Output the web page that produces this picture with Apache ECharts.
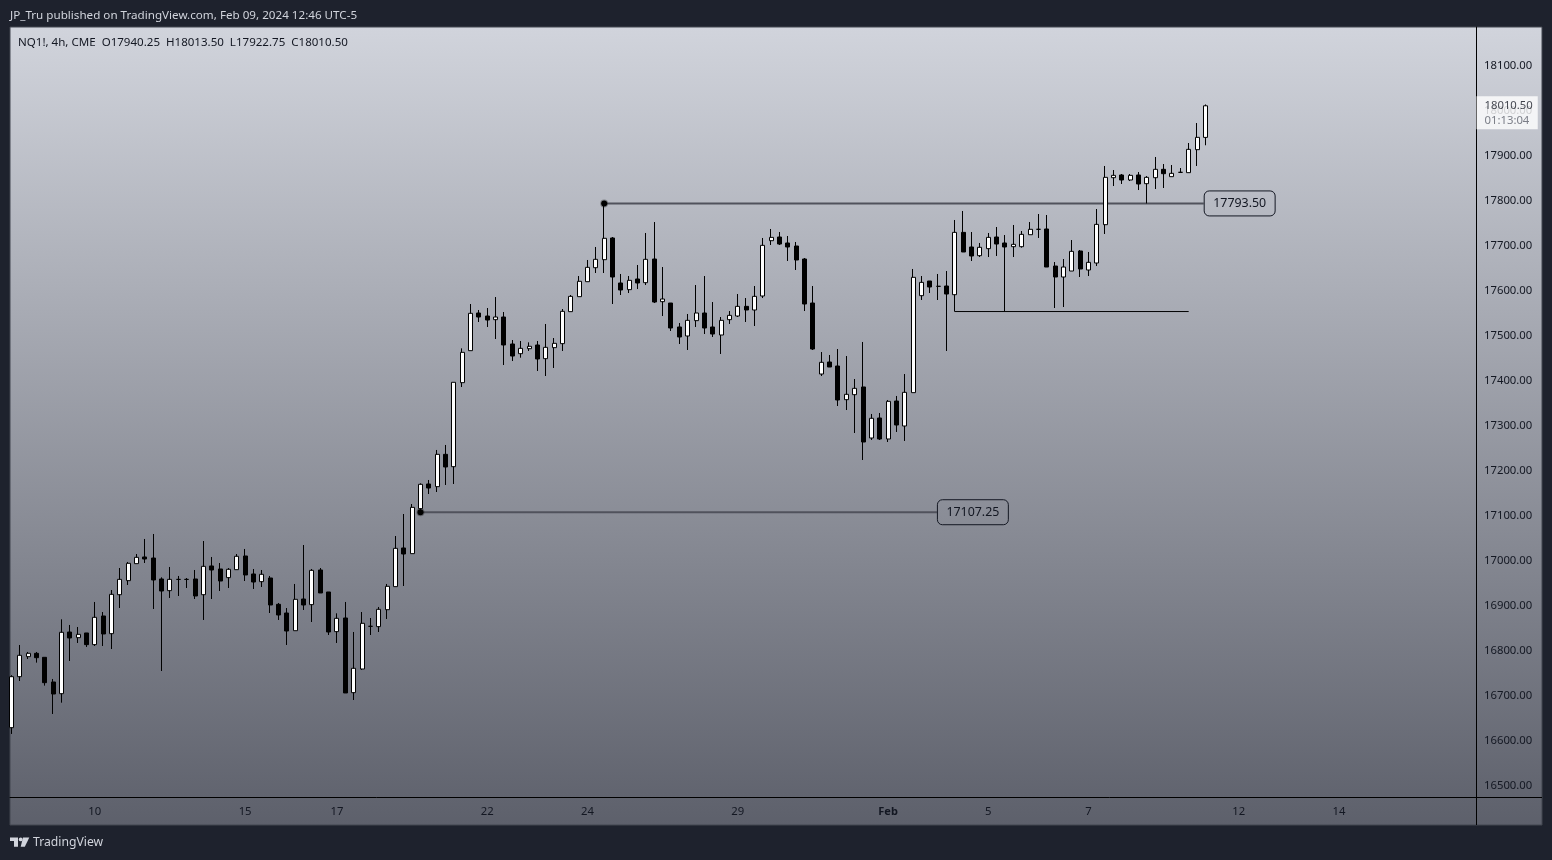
<!DOCTYPE html>
<html>
<head>
<meta charset="utf-8">
<title>NQ1! 4h</title>
<script src="https://cdn.jsdelivr.net/npm/echarts@6/dist/echarts.min.js"></script>
<style>
  html, body { margin: 0; padding: 0; background: #1e222d; }
  #chart { width: 1552px; height: 860px; }
</style>
</head>
<body>
<div id="chart"></div>
<script>
const opens = [16628.5,16741.8,16786.3,16793.7,16784.8,16730,16704,16841,16828.5,16838.9,16813,16876.7,16837.4,16924,16955.2,16993,17007.8,17005.5,16958.9,16933,16958,16958,16958.9,16924,16987.8,
  16981.1,16961.9,16979.6,17010,16970,16953,16961.1,16902.6,16883.3,16844,16914.4,16901.9,16978.9,16930,16841.9,16872.2,16706.3,16758.9,16853.7,16853,16890.7,16941.9,17027.8,17015.2,17115.2,
  17170,17164.1,17235.9,17208.5,17395.2,17466.3,17550,17543.3,17535.2,17541.1,17481.1,17459.6,17470.7,17478.9,17448.5,17473,17481.9,17553,17586.3,17619.6,17650.7,17668.5,17716.7,17616.7,17601.9,
  17625.6,17617.4,17670,17575.2,17572.2,17518.9,17498.9,17533,17550,17518.9,17501.1,17535.2,17543.3,17564.8,17556.7,17587.8,17710.7,17718.9,17705.6,17698.9,17670,17572.2,17414.4,17441.1,17432.2,
  17357.4,17368.5,17385.6,17272.2,17316.7,17270,17354.4,17298.9,17373,17588.5,17621.1,17609.3,17610,17590.7,17729.2,17696.7,17677.4,17693,17718.9,17705.6,17697.4,17697.4,17724,17736,17736.7,
  17654.4,17630,17643.3,17687.8,17645.6,17661.1,17746.3,17850.7,17856.7,17845.6,17856.7,17837.4,17850.7,17869.3,17853,17862.6,17861.9,17913,17940.25];
const closes = [16741.8,16789.3,16793.7,16784,16728.5,16703.3,16840.4,16827.8,16835.9,16813,16873.7,16836.7,16924.8,16958.1,16993.7,17007,17003.3,16956.7,16932.2,16958.1,16958,16958,16921.1,16987,16978.9,
  16954.4,16980.4,17009.3,16967.8,16952.2,16969.3,16901.1,16878.9,16843.3,16913.7,16901.1,16978.1,16927.8,16841.1,16871.5,16705.6,16760.4,16860.4,16853.7,16891.5,16942.6,17027,17014.4,17118.1,17169.3,
  17161.1,17235.9,17207.8,17396,17462.6,17549.3,17541.1,17534.4,17541.1,17478.9,17454.4,17471.5,17476,17447.8,17473.7,17482.6,17553.7,17587,17620.4,17651.5,17669.3,17716,17630,17601.1,17622.6,
  17616.7,17669.3,17574.4,17581.1,17516.7,17496.7,17533.7,17550,17516.7,17503.3,17533.7,17544.8,17564.8,17556.7,17587,17700.4,17718.1,17703.3,17696.7,17667.8,17570,17470,17440.4,17430,17356.7,
  17369.3,17382.6,17263.3,17316,17270,17353.7,17301.1,17373.7,17629.3,17618.1,17607.8,17609.3,17592.2,17729.2,17685.6,17676.7,17696,17718.1,17703.3,17696.7,17702.6,17724.8,17736,17736,17652.2,
  17630,17652.2,17687,17647.8,17662.6,17747,17851.5,17855.9,17845.6,17855.9,17836.7,17851.5,17869.3,17859.6,17860.4,17862.6,17913.7,17940.4,18010.5];
const lows = [16614.5,16732.2,16781.1,16773,16721.9,16658.9,16684,16776.7,16816.7,16807.8,16810,16810,16803.3,16894.4,16945.6,16993,16994.4,16892.2,16754.4,16916.7,16921.1,16938.9,16914.4,16867.8,16914.4,
  16932.2,16938.9,16979.6,16954.4,16936.7,16941.1,16883.3,16867.8,16812.2,16844,16890,16863.3,16927.8,16834.4,16816.7,16705.6,16690,16756.7,16834.4,16841.1,16870,16941.9,16943.3,17015.2,17107.25,
  17147.8,17152.2,17167.8,17170,17385.5,17466.3,17530,17518.9,17492.2,17434.4,17443.3,17450.7,17465.6,17421.1,17410,17427.8,17465.6,17553,17586.3,17619.6,17638.9,17638.9,17570,17590,17594.4,
  17603.3,17612.2,17572.2,17543.3,17510,17481.1,17467.8,17518.9,17503.3,17496.7,17458.9,17525.6,17541.1,17530,17521.1,17583.3,17701.1,17701.1,17665.6,17645.6,17554.4,17467.8,17410,17430,17343.3,
  17334.4,17283.3,17223.3,17267.8,17267.8,17263.3,17285.6,17265.6,17373,17578.9,17594.4,17578.9,17465.6,17553,17685.6,17665.6,17674.4,17674.4,17676.7,17554.4,17674.4,17695.2,17724,17716.7,17652.2,
  17561.1,17563.3,17643.3,17630,17632.2,17654.4,17725.6,17832.2,17836.7,17843.3,17823.3,17793.5,17825.6,17827.8,17853,17862.6,17861.9,17876.7,17922.75];
const highs = [16745,16812.2,16796.7,16796.7,16784.8,16736.7,16869.3,16856.7,16852.2,16839,16907.8,16885.5,16934.4,16983.3,16996.7,17014.4,17047.8,17058.9,16962.6,16985.6,16965.6,16961,16978.9,17043.3,17007.8,
  16994.4,16983.3,17014.4,17025.6,16981.1,16978.9,16965.6,16905.6,16894.4,16947.8,17034.4,16981.1,16983.3,16930,16882.6,16907.8,16841.1,16885.5,16872.2,16896.7,16947.8,17054.4,17103.3,17125.5,17171.5,
  17178.9,17245.6,17256.7,17396,17471.5,17570,17556.7,17561.1,17585.5,17552.2,17490,17487.8,17484.8,17487.8,17525.6,17494.4,17558.9,17590,17632.2,17667.8,17696.7,17793.5,17718.9,17636.7,17632.2,
  17656.7,17727.8,17752.2,17652.2,17572.2,17527.8,17547.8,17612.2,17632.2,17574.4,17541.1,17554.4,17592.2,17583.3,17610,17716.7,17736.7,17730,17721.1,17707.8,17672.2,17610,17463.3,17456.7,17470,
  17454.4,17403.3,17485.6,17325.6,17327.8,17356.7,17365.6,17414.4,17647.8,17632.2,17621.1,17636.7,17643.3,17756.7,17776.7,17730,17705.6,17727.8,17741.1,17723.3,17745.6,17732.2,17752.2,17770,17767.8,
  17663.3,17670,17712.2,17690,17685.6,17781.1,17876.7,17867.8,17858.9,17858.9,17863.3,17854.4,17896.7,17881.1,17878.9,17872.2,17927.8,17972.2,18013.5];

const dayTickBars = [10, 28, 39, 57, 69, 87, 105, 117, 129, 147, 159];
const dayTickLabels = ['10', '15', '17', '22', '24', '29', 'Feb', '5', '7', '12', '14'];
const priceTicks = [16500, 16600, 16700, 16800, 16900, 17000, 17100, 17200, 17300, 17400, 17500, 17600, 17700, 17800, 17900, 18000, 18100];

// the three drawn levels: from bar, to bar, price
const highLevel = [71, 142.8, 17793.5];
const lowLevel = [49, 110.85, 17107.25];
const supportLevel = [113, 141, 17553.25];

const xMin = -0.156, xMax = 175.41;
const yMin = 16474.4, yMax = 18185.6;
const last = opens.length - 1;
const ink = '#131722';

function levelSeries(level, withLabel) {
  const first = {
    value: [level[0], level[2]],
    symbol: withLabel ? 'circle' : 'none',
    symbolSize: 6,
    itemStyle: { color: '#000000', borderColor: 'rgba(0,0,0,0.3)', borderWidth: 2 }
  };
  const end = { value: [level[1], level[2]], symbol: 'none' };
  if (withLabel) {
    // the label hangs on a symbol, so the end point needs an invisible one
    end.symbol = 'circle';
    end.symbolSize = 1;
    end.itemStyle = { color: 'transparent' };
    end.label = {
      show: true,
      position: 'right',
      distance: 0,
      formatter: level[2].toFixed(2),
      color: ink,
      fontFamily: 'Noto Sans',
      fontSize: 12.4,
      padding: [7, 9, 6, 9],
      borderColor: ink,
      borderWidth: 1,
      borderRadius: 5
    };
  }
  return {
    type: 'line',
    silent: true,
    animation: false,
    z: 5,
    data: [first, end],
    lineStyle: { color: withLabel ? '#50525c' : '#000000', width: withLabel ? 2 : 1 }
  };
}

const chart = echarts.init(document.getElementById('chart'), null, { renderer: 'canvas' });

chart.setOption({
  animation: false,
  backgroundColor: '#1e222d',
  grid: { left: 10, top: 27, right: 76, bottom: 63 },
  xAxis: {
    type: 'value',
    min: xMin,
    max: xMax,
    splitLine: { show: false },
    axisTick: { show: false },
    axisLine: { show: true, onZero: false, lineStyle: { color: '#000000', width: 1 } },
    axisLabel: {
      customValues: dayTickBars,
      formatter: function (v) {
        const s = dayTickLabels[dayTickBars.indexOf(v)];
        return s === 'Feb' ? '{b|Feb}' : s;
      },
      rich: { b: { fontWeight: 'bold', fontFamily: 'Noto Sans', fontSize: 11, color: ink } },
      color: ink,
      fontFamily: 'Noto Sans',
      fontSize: 11.3,
      margin: 9
    }
  },
  yAxis: {
    type: 'value',
    position: 'right',
    min: yMin,
    max: yMax,
    splitLine: { show: false },
    axisTick: { show: false },
    axisLine: { show: true, onZero: false, lineStyle: { color: '#000000', width: 1 } },
    axisLabel: {
      customValues: priceTicks,
      formatter: function (v) { return v.toFixed(2); },
      color: ink,
      fontFamily: 'Noto Sans',
      fontSize: 11.3,
      padding: [4, 0, 0, 0],
      margin: 8
    }
  },
  series: [
    {
      type: 'candlestick',
      silent: true,
      z: 6,
      barWidth: 4.5, // keeps every body the same width after pixel snapping
      encode: { x: 0, y: [1, 2, 3, 4] },
      data: opens.map(function (o, i) { return [i, o, closes[i], lows[i], highs[i]]; }),
      itemStyle: {
        color: '#ffffff',
        color0: '#000000',
        borderColor: '#000000',
        borderColor0: '#000000',
        borderColorDoji: '#000000',
        borderWidth: 1
      }
    },
    levelSeries(highLevel, true),
    levelSeries(lowLevel, true),
    levelSeries(supportLevel, false),
    {
      // last price tag on the price scale
      type: 'scatter',
      silent: true,
      clip: false,
      z: 8,
      symbolSize: 1,
      itemStyle: { color: 'transparent' },
      data: [[xMax, closes[last]]],
      label: {
        show: true,
        position: 'right',
        distance: 0,
        offset: [0, 7],
        backgroundColor: '#ffffff',
        padding: [2, 5, 1, 8],
        formatter: '{p|' + closes[last].toFixed(2) + '}\n{t|01:13:04}',
        rich: {
          p: { color: ink, fontFamily: 'Noto Sans', fontSize: 11.3, lineHeight: 15 },
          t: { color: '#5d606b', fontFamily: 'Noto Sans', fontSize: 11.3, lineHeight: 15 }
        }
      }
    }
  ],
  graphic: [
    {
      type: 'rect',
      silent: true,
      z: -10,
      shape: { x: 10, y: 27, width: 1532, height: 798 },
      style: {
        fill: new echarts.graphic.LinearGradient(0, 0, 0, 1, [
          { offset: 0, color: '#d1d4dc' },
          { offset: 1, color: '#5d606b' }
        ]),
        stroke: '#434651',
        lineWidth: 1
      }
    },
    // price scale line carries on below the time scale, time line out to the panel edge
    { type: 'line', silent: true, z: 1, shape: { x1: 1476.5, y1: 797, x2: 1476.5, y2: 825 }, style: { stroke: '#000000', lineWidth: 1 } },
    { type: 'line', silent: true, z: 1, shape: { x1: 1476, y1: 797.5, x2: 1542, y2: 797.5 }, style: { stroke: '#000000', lineWidth: 1 } },
    {
      type: 'text',
      silent: true,
      x: 10,
      y: 10,
      style: { text: 'JP_Tru published on TradingView.com, Feb 09, 2024 12:46 UTC-5', fill: '#d1d4dc', font: '11.65px "Noto Sans"' }
    },
    {
      type: 'text',
      silent: true,
      z: 10,
      x: 18,
      y: 37,
      style: {
        text: 'NQ1!, 4h, CME  O' + opens[last].toFixed(2) + '  H' + highs[last].toFixed(2) + '  L' + lows[last].toFixed(2) + '  C' + closes[last].toFixed(2),
        fill: ink,
        font: '11.55px "Noto Sans"'
      }
    },
    // logo
    { type: 'polygon', silent: true, shape: { points: [[10, 837.5], [18, 837.5], [18, 846.7], [14, 846.7], [14, 841], [10, 841]] }, style: { fill: '#d1d4dc' } },
    { type: 'circle', silent: true, shape: { cx: 20.7, cy: 839.4, r: 1.9 }, style: { fill: '#d1d4dc' } },
    { type: 'polygon', silent: true, shape: { points: [[23, 837.5], [29.3, 837.5], [24.8, 846.7], [20.7, 846.7]] }, style: { fill: '#d1d4dc' } },
    {
      type: 'text',
      silent: true,
      x: 33,
      y: 837,
      style: { text: 'TradingView', fill: '#d1d4dc', font: '12.2px "Noto Sans"' }
    }
  ]
});
</script>
</body>
</html>
